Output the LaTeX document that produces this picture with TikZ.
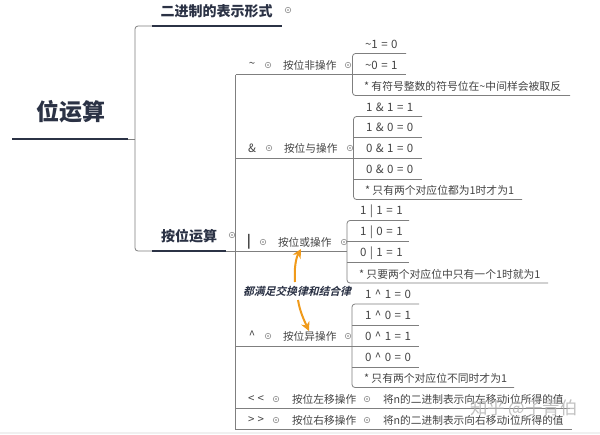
\documentclass[tikz,border=0pt]{standalone}
\usepackage{fontspec}
\setmainfont{Noto Sans CJK SC}
\newfontfamily\slantfont[FakeSlant=0.25]{Noto Sans CJK SC Bold}
\usetikzlibrary{arrows.meta}
\definecolor{ink}{HTML}{2B3245}
\definecolor{txt}{HTML}{444444}
\definecolor{edge}{HTML}{7F7F7F}
\definecolor{marker}{HTML}{F09A1A}
\newcommand\eqfont{\fontsize{11.5}{13}\selectfont\setlength{\spaceskip}{3.5pt}}
\tikzset{
  every node/.style={inner sep=0pt,outer sep=0pt},
  rootline/.style={draw=ink,line width=2.6pt},
  subline/.style={draw=ink,line width=2pt},
  link/.style={draw=edge,line width=0.8pt,rounded corners=3pt},
  leafline/.style={draw=edge,line width=0.8pt},
  label/.style={anchor=west,font=\fontsize{10.8}{12}\selectfont,text=txt},
  eqn/.style={anchor=west,font=\eqfont,text=txt},
  opname/.style={anchor=west,font=\fontsize{10.7}{12}\selectfont,text=txt},
  sym/.style={anchor=center,font=\fontsize{11.5}{13}\selectfont,text=txt},
  toggle/.style={circle,draw=edge,line width=0.5pt,minimum size=5.5pt,
    path picture={\fill[edge] (path picture bounding box.center) circle (0.8pt);}},
  curved/.style={draw=marker,line width=2pt,-{Stealth[length=9pt,width=9pt]}},
}
\begin{document}
\begin{tikzpicture}[x=1pt,y=-1pt]
\useasboundingbox (0,0) rectangle (600,434);
\fill[white] (0,0) rectangle (600,434);
\fill[black!6] (0,432) rectangle (600,434);

% root and first level
\node[font=\fontsize{23}{26}\bfseries\selectfont,text=ink] (root) at (70.5,112) {位运算};
\coordinate (rootL) at (12,139); \coordinate (rootR) at (128,139);
\node[font=\fontsize{14}{16}\bfseries\selectfont,text=ink] (binary) at (216.5,11) {二进制的表示形式};
\coordinate (binL) at (152,26); \coordinate (binR) at (282,26);
\node[font=\fontsize{14}{16}\bfseries\selectfont,text=ink] (bitop) at (189,236) {按位运算};
\coordinate (bitL) at (152,251); \coordinate (bitR) at (226,251);
\node[toggle] (tbin) at (288,10) {};
\node[toggle] (tbit) at (232,235) {};

\path[link] (rootR) -- (135,139);
\path[link] (binL) -- (135,26) -- (135,251) -- (bitL);
\path[rootline] (rootL) -- (rootR);
\path[subline] (binL) -- (binR);
\path[subline] (bitL) -- (bitR);

% trunk
\coordinate (trunkT) at (235.5,74.5);
\coordinate (trunkB) at (235.5,429.5);
\coordinate (notR) at (352.5,74.5);
\coordinate (andR) at (353.5,158);
\coordinate (orR) at (347,251.5);
\coordinate (xorR) at (352,346);
\coordinate (lsR) at (570,408.5);
\coordinate (rsR) at (572,429.5);
\path[leafline] (trunkT) -- (trunkB);
\path[leafline] (trunkT) -- (notR);
\path[leafline] (235.5,158) -- (andR);
\path[leafline] (226,251.5) -- (orR);
\path[leafline] (235.5,346) -- (xorR);
\path[leafline] (235.5,408.5) -- (lsR);
\path[leafline] (trunkB) -- (rsR);

% operator rows
\node[sym] (s1) at (252,65) {\textasciitilde};
\node[toggle] (t1a) at (268,65) {};
\node[opname] (n1) at (283,65) {按位非操作};
\node[toggle] (t1b) at (348,65) {};

\node[sym] (s2) at (252,148) {\&};
\node[toggle] (t2a) at (269,148) {};
\node[opname] (n2) at (284,148) {按位与操作};
\node[toggle] (t2b) at (350,148) {};

\node[sym,font=\fontsize{13}{14}\bfseries\selectfont] (s3) at (249,242) {|};
\node[toggle] (t3a) at (263,242) {};
\node[opname] (n3) at (278,242) {按位或操作};
\node[toggle] (t3b) at (344,242) {};

\node[sym] (s4) at (252,335) {\textasciicircum};
\node[toggle] (t4a) at (268,336) {};
\node[opname] (n4) at (283,336) {按位异操作};
\node[toggle] (t4b) at (348,336) {};

\node[sym] (s5) at (256,399) {<\;<};
\node[toggle] (t5a) at (276,399) {};
\node[opname] (n5) at (292,399) {按位左移操作};
\node[toggle] (t5b) at (367,399) {};
\node[opname] (d5) at (383,399) {将n的二进制表示向左移动i位所得的值};

\node[sym] (s6) at (256,420) {>\;>};
\node[toggle] (t6a) at (276,420) {};
\node[opname] (n6) at (292,420) {按位右移操作};
\node[toggle] (t6b) at (367,420) {};
\node[opname] (d6) at (383,420) {将n的二进制表示向右移动i位所得的值};

% ~ leaves
\node[eqn] (a1) at (365,44) {\textasciitilde1 = 0};
\node[eqn] (a2) at (365,65) {\textasciitilde0 = 1};
\node[label] (a3) at (364,86) {* 有符号整数的符号位在\textasciitilde 中间样会被取反};
\path[link] (406,53.5) -- (352.5,53.5) -- (352.5,95.5) -- (570,95.5);
\path[leafline] (352.5,74.5) -- (406,74.5);

% & leaves
\node[eqn] (b1) at (366,107) {1 \& 1 = 1};
\node[eqn] (b2) at (366,127) {1 \& 0 = 0};
\node[eqn] (b3) at (366,148) {0 \& 1 = 0};
\node[eqn] (b4) at (366,169) {0 \& 0 = 0};
\node[label] (b5) at (365,190) {* 只有两个对应位都为1时才为1};
\path[link] (422,116.5) -- (353.5,116.5) -- (353.5,199.5) -- (522,199.5);
\path[leafline] (353.5,137) -- (422,137);
\path[leafline] (353.5,158) -- (422,158);
\path[leafline] (353.5,179) -- (422,179);

% | leaves
\node[eqn] (c1) at (360,211) {1 | 1 = 1};
\node[eqn] (c2) at (360,232) {1 | 0 = 1};
\node[eqn] (c3) at (360,253) {0 | 1 = 1};
\node[label] (c4) at (359,274) {* 只要两个对应位中只有一个1时就为1};
\path[link] (409,220.5) -- (347,220.5) -- (347,283) -- (548,283);
\path[leafline] (347,241.5) -- (409,241.5);
\path[leafline] (347,262) -- (409,262);

% ^ leaves
\node[eqn] (e1) at (365,294) {1 \textasciicircum{} 1 = 0};
\node[eqn] (e2) at (365,315) {1 \textasciicircum{} 0 = 1};
\node[eqn] (e3) at (365,336) {0 \textasciicircum{} 1 = 1};
\node[eqn] (e4) at (365,357) {0 \textasciicircum{} 0 = 0};
\node[label] (e5) at (364,378) {* 只有两个对应位不同时才为1};
\path[link] (419,304) -- (352,304) -- (352,387.5) -- (514,387.5);
\path[leafline] (352,325) -- (419,325);
\path[leafline] (352,346) -- (419,346);
\path[leafline] (352,367) -- (419,367);

% relationship
\node[font=\fontsize{10.8}{12}\slantfont,text=ink] (rel) at (297,291) {都满足交换律和结合律};
\coordinate (orTip) at (301,249);
\coordinate (xorTip) at (309,331);
\draw[curved] (295,282) .. controls (294,268) and (296,258) .. (orTip);
\draw[curved] (298,300) .. controls (300,312) and (304,320) .. (xorTip);

% watermark
\node[anchor=west,font=\fontsize{17.5}{20}\selectfont,text=black!30,opacity=.8] (mark) at (470,409) {知乎 @子青伯};
\end{tikzpicture}
\end{document}
